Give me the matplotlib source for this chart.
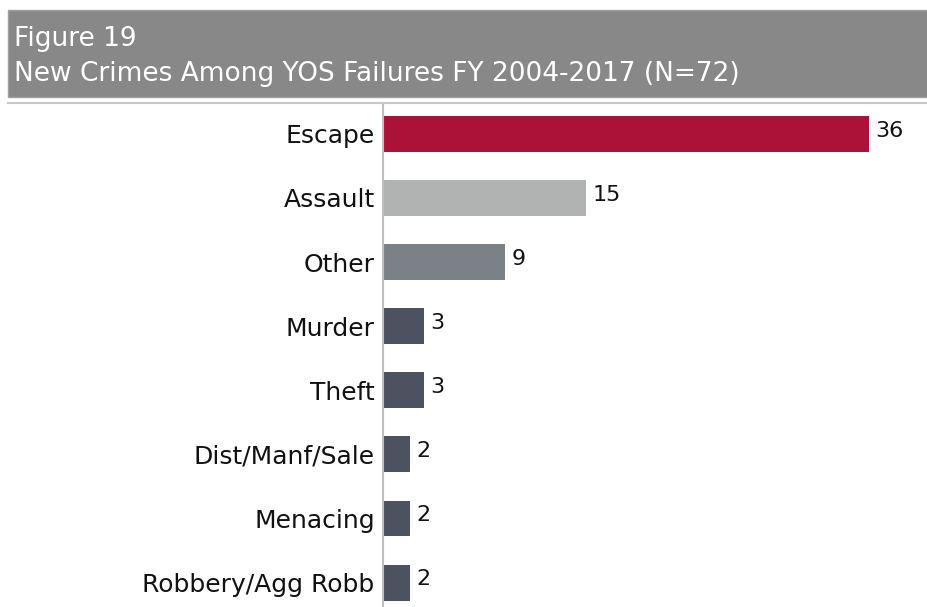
import matplotlib.pyplot as plt
from matplotlib.patches import Rectangle
from matplotlib.lines import Line2D

plt.rcParams['font.family'] = ['DejaVu Sans']

# 数据
categories = ['Escape', 'Assault', 'Other', 'Murder', 'Theft',
              'Dist/Manf/Sale', 'Menacing', 'Robbery/Agg Robb']
counts = [36, 15, 9, 3, 3, 2, 2, 2]
bar_colors = ['#AC1238', '#B1B3B3', '#7A8288', '#4D5260', '#4D5260',
              '#4D5260', '#4D5260', '#4D5260']

fig = plt.figure(figsize=(9.28, 6.07), dpi=100)

# 标题栏
fig.patches.append(Rectangle((8 / 928, 1 - 97 / 607), 1 - 8 / 928, 87 / 607,
                             transform=fig.transFigure, facecolor='#888888',
                             edgecolor='#A0A0A0', linewidth=1))
fig.text(14 / 928, 1 - 39 / 607, 'Figure 19', color='white', fontsize=19,
         va='center', ha='left')
fig.text(14 / 928, 1 - 74 / 607, 'New Crimes Among YOS Failures FY 2004-2017 (N=72)',
         color='white', fontsize=19, va='center', ha='left')
fig.lines.append(Line2D([8 / 928, 1], [1 - 103 / 607, 1 - 103 / 607],
                        transform=fig.transFigure, color='#C8C8C8', linewidth=1.5))

ax = fig.add_axes([383 / 928, 0, 1 - 383 / 928, 1 - 103 / 607])
y = list(range(len(categories)))
ax.barh(y, counts, height=0.56, color=bar_colors)
for yi, v in zip(y, counts):
    ax.text(v + 0.5, yi - 0.05, str(v), va='center', ha='left', fontsize=16,
            color='#111111')

ax.set_xlim(0, (928 - 383) / 13.5)
ax.set_ylim(7.38, -0.48)
ax.set_yticks(y)
ax.set_yticklabels(categories, fontsize=18, color='#111111')
ax.tick_params(axis='y', length=0, pad=6)
ax.set_xticks([])
for s in ['top', 'right', 'bottom']:
    ax.spines[s].set_visible(False)
ax.spines['left'].set_color('#C0C0C0')
ax.spines['left'].set_linewidth(1.5)

fig.savefig('out.png', dpi=100)
